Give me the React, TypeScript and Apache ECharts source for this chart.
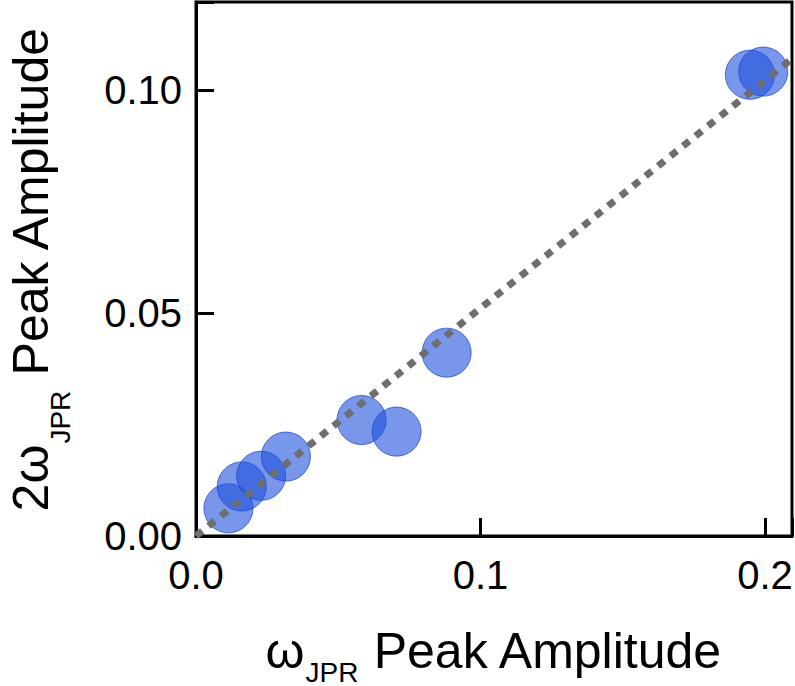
import React, { useEffect, useRef } from "react";
import * as echarts from "echarts";

const xValues = [0.0114, 0.0161, 0.0229, 0.0316, 0.0582, 0.0705, 0.0881, 0.1947, 0.1994];
const yValues = [0.0062, 0.0111, 0.0135, 0.0178, 0.026, 0.0234, 0.0411, 0.1034, 0.1041];
const fitX = [0, 0.2095];
const fitY = [0, 0.107];
const xTicks = [0, 0.1, 0.2];
const yTicks = [0, 0.05, 0.1];

const FONT = "'Liberation Sans', Arial, Helvetica, sans-serif";

export default function App() {
  const ref = useRef<HTMLDivElement>(null);
  useEffect(() => {
    if (!ref.current) return;
    const chart = echarts.init(ref.current, undefined, { renderer: "svg" });
    const makeRich = (subSize: number, subPad: number) => ({
      m: { fontSize: 50, lineHeight: 56, verticalAlign: "top", fontFamily: FONT, color: "#000" },
      s: {
        fontSize: subSize,
        lineHeight: subSize,
        verticalAlign: "top",
        padding: [subPad, 0, 0, 1],
        fontFamily: FONT,
        color: "#000",
      },
    });
    const near = (v: number, list: number[]) => list.some((t) => Math.abs(t - v) < 1e-9);
    chart.setOption({
      animation: false,
      grid: {
        left: 196,
        right: 3,
        top: 2,
        bottom: 150,
        containLabel: false,
        outerBoundsMode: "none",
        show: true,
        borderColor: "#000",
        borderWidth: 3,
        backgroundColor: "transparent",
      },
      xAxis: {
        type: "value",
        min: 0,
        max: 0.2095,
        interval: 0.1,
        splitLine: { show: false },
        axisLine: { show: true, lineStyle: { color: "#000", width: 3 } },
        axisTick: { show: true, inside: true, length: 18, lineStyle: { color: "#000", width: 3 } },
        axisLabel: {
          fontSize: 40,
          fontFamily: FONT,
          color: "#000",
          margin: 19,
          formatter: (v: number) => (near(v, xTicks) ? v.toFixed(1) : ""),
        },
        name: "{m|ω}{s|JPR}{m| Peak Amplitude}",
        nameLocation: "middle",
        nameGap: 90,
        nameTextStyle: { rich: makeRich(28, 32) },
      },
      yAxis: {
        type: "value",
        min: 0,
        max: 0.1197,
        interval: 0.05,
        splitLine: { show: false },
        axisLine: { show: true, lineStyle: { color: "#000", width: 3 } },
        axisTick: { show: true, inside: true, length: 18, lineStyle: { color: "#000", width: 3 } },
        axisLabel: {
          fontSize: 40,
          fontFamily: FONT,
          color: "#000",
          margin: 14,
          formatter: (v: number) => (near(v, yTicks) ? v.toFixed(2) : ""),
        },
        name: "{m|2ω}{s|JPR}{m| Peak Amplitude}",
        nameLocation: "middle",
        nameGap: 134,
        nameTextStyle: { rich: makeRich(28, 40) },
      },
      series: [
        {
          type: "scatter",
          data: xValues.map((x, i) => [x, yValues[i]]),
          symbol: "circle",
          symbolSize: 49,
          itemStyle: {
            color: "rgba(30, 80, 220, 0.6)",
            borderColor: "rgba(30, 70, 210, 0.75)",
            borderWidth: 1,
            opacity: 1,
          },
          z: 2,
        },
        {
          type: "line",
          data: fitX.map((x, i) => [x, fitY[i]]),
          showSymbol: false,
          symbol: "none",
          lineStyle: { color: "#6e6e6e", width: 7, type: [8, 8], cap: "butt" },
          z: 3,
        },
      ],
    });
    return () => chart.dispose();
  }, []);
  return <div ref={ref} style={{ width: 795, height: 686, position: "absolute", left: 0, top: 0 }} />;
}
